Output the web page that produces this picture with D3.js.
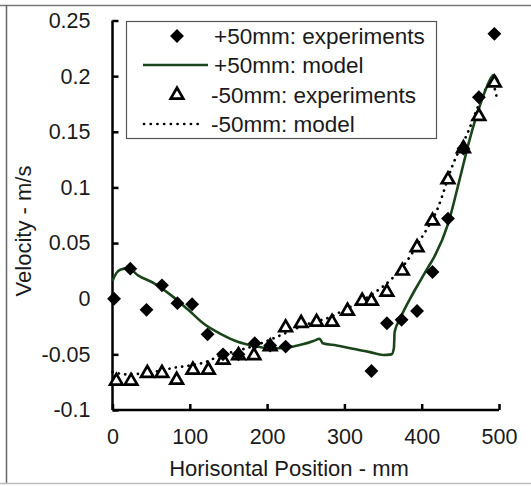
<!DOCTYPE html>
<html><head><meta charset="utf-8">
<script src="https://cdn.jsdelivr.net/npm/d3@7/dist/d3.min.js"></script>
<style>body{margin:0;background:#fff}svg{display:block;font-family:"Liberation Sans",Arial,sans-serif}</style>
</head><body>
<svg id="c" width="531" height="486"></svg>
<script>
// +50mm experiments (diamonds)
const expPlusX = [2,23,44,64,84,103,123,143,163,184,204,224,335,355,374,394,414,434,454,474,494];
const expPlusV = [0,0.027,-0.010,0.012,-0.004,-0.005,-0.032,-0.050,-0.050,-0.040,-0.042,-0.043,-0.065,-0.022,-0.019,-0.011,0.024,0.072,0.135,0.181,0.238];
// -50mm experiments (triangles)
const expMinusX = [5,24,45,64,83,104,124,143,163,183,204,224,244,264,284,304,323,335,355,375,394,414,434,454,474,494];
const expMinusV = [-0.074,-0.074,-0.067,-0.067,-0.073,-0.064,-0.064,-0.055,-0.051,-0.051,-0.043,-0.026,-0.022,-0.021,-0.021,-0.011,-0.002,-0.002,0.006,0.025,0.046,0.070,0.107,0.135,0.164,0.194];
// +50mm model (solid green)
const modPlusX = [0,5,10,20,33,55,76,98,119,141,162,180,205,225,246,260,268,272,290,311,333,350,361,364,365,372,385,398,408,415,434,449,462,475,484,493,499];
const modPlusV = [0.016,0.023,0.026,0.0275,0.021,0.0134,0.003,-0.010,-0.023,-0.032,-0.0387,-0.042,-0.0446,-0.044,-0.041,-0.038,-0.036,-0.040,-0.042,-0.045,-0.048,-0.0506,-0.050,-0.0446,-0.030,-0.018,0,0.016,0.028,0.036,0.067,0.107,0.143,0.173,0.190,0.201,0.195];
// -50mm model (dotted)
const modMinusX = [0,20,40,60,80,100,120,140,160,180,200,220,240,260,280,300,320,340,360,380,400,420,440,460,475,490,498];
const modMinusV = [-0.066,-0.068,-0.067,-0.065,-0.062,-0.060,-0.057,-0.051,-0.047,-0.043,-0.038,-0.032,-0.026,-0.021,-0.017,-0.010,-0.003,0.006,0.017,0.033,0.055,0.080,0.120,0.150,0.176,0.195,0.178];
const xTicks = [0,100,200,300,400,500];
const yTicks = [-0.1,-0.05,0,0.05,0.1,0.15,0.2,0.25];
const legendLabels = ["+50mm: experiments","+50mm: model","-50mm: experiments","-50mm: model"];
const xTitle = "Horisontal Position - mm";
const yTitle = "Velocity - m/s";

const svg = d3.select("#c");
// frame
svg.append("line").attr("x1",0).attr("x2",531).attr("y1",5.5).attr("y2",5.5).attr("stroke","#777").attr("stroke-width",1.5);
svg.append("line").attr("x1",6.5).attr("x2",6.5).attr("y1",5).attr("y2",483).attr("stroke","#666").attr("stroke-width",1.5);
svg.append("line").attr("x1",0).attr("x2",531).attr("y1",483.5).attr("y2",483.5).attr("stroke","#bbb").attr("stroke-width",1.5);

const x = d3.scaleLinear().domain([0,500]).range([112.5,499]);
const y = d3.scaleLinear().domain([-0.1,0.25]).range([410,20.5]);
const green = "#1a451a";

// axes
const xAxis = svg.append("g").attr("transform",`translate(0,${y(-0.1)})`)
  .call(d3.axisBottom(x).tickValues(xTicks).tickSize(-6).tickPadding(19).tickFormat(d3.format("d")));
const yAxis = svg.append("g").attr("transform",`translate(${x(0)},0)`)
  .call(d3.axisLeft(y).tickValues(yTicks).tickSize(-6).tickPadding(20).tickFormat(d=>String(+d.toFixed(2))));
[xAxis,yAxis].forEach(g=>{
  g.select(".domain").attr("stroke","#000").attr("stroke-width",2.5);
  g.selectAll(".tick line").attr("stroke","#000").attr("stroke-width",2.5);
  g.selectAll(".tick text").attr("fill","#1a1a1a").style("font-size","21.5px").style("font-family","Liberation Sans, Arial, sans-serif");
});
xAxis.select(".domain").attr("d",`M${x(0)},0H${x(500)}`);
yAxis.select(".domain").attr("d",`M0,${y(0.25)}V${y(-0.1)}`);
yAxis.selectAll(".tick text").attr("dx",-2);

// titles
svg.append("text").attr("x",289).attr("y",476).attr("text-anchor","middle").attr("fill","#1a1a1a")
  .style("font-size","22px").text(xTitle);
svg.append("text").attr("transform","translate(31,231) rotate(-90)").attr("text-anchor","middle").attr("fill","#1a1a1a")
  .style("font-size","22px").text(yTitle);

// lines
const line = d3.line().x(d=>x(d[0])).y(d=>y(d[1])).curve(d3.curveMonotoneX);
svg.append("path").datum(d3.zip(modMinusX,modMinusV)).attr("d",line).attr("fill","none")
  .attr("stroke","#000").attr("stroke-width",2.7).attr("stroke-dasharray","0.1,6.3").attr("stroke-linecap","round");
svg.append("path").datum(d3.zip(modPlusX,modPlusV)).attr("d",line).attr("fill","none")
  .attr("stroke",green).attr("stroke-width",2.6);

// markers
const diamond = d3.symbol().type(d3.symbolSquare).size(96);
const tri = d3.symbol().type(d3.symbolTriangle).size(68);
svg.append("g").selectAll("path").data(d3.zip(expMinusX,expMinusV)).join("path")
  .attr("d",tri).attr("transform",d=>`translate(${x(d[0])},${y(d[1])})`)
  .attr("fill","#fff").attr("stroke","#000").attr("stroke-width",2.7);
svg.append("g").selectAll("path").data(d3.zip(expPlusX,expPlusV)).join("path")
  .attr("d",diamond).attr("transform",d=>`translate(${x(d[0])},${y(d[1])}) rotate(45)`)
  .attr("fill","#000");

// legend
const lg = svg.append("g");
lg.append("rect").attr("x",126.5).attr("y",21.5).attr("width",310).attr("height",117)
  .attr("fill","#fff").attr("stroke","#555").attr("stroke-width",1.2);
const rowsY = [36,65,95,124];
lg.append("path").attr("d",diamond).attr("transform",`translate(177,${rowsY[0]}) rotate(45)`).attr("fill","#000");
lg.append("line").attr("x1",143).attr("x2",208).attr("y1",rowsY[1]).attr("y2",rowsY[1]).attr("stroke",green).attr("stroke-width",2.6);
lg.append("path").attr("d",tri).attr("transform",`translate(177,${rowsY[2]})`).attr("fill","#fff").attr("stroke","#000").attr("stroke-width",2.7);
lg.append("line").attr("x1",144).attr("x2",203).attr("y1",rowsY[3]).attr("y2",rowsY[3]).attr("stroke","#000")
  .attr("stroke-width",2.7).attr("stroke-dasharray","0.1,6.6").attr("stroke-linecap","round");
lg.selectAll("text.l").data(legendLabels).join("text").attr("class","l")
  .attr("x",(d,i)=> i<2 ? 214 : 211).attr("y",(d,i)=>rowsY[i]+7.8).attr("fill","#1a1a1a")
  .style("font-size","22.5px").text(d=>d);
</script>
</body></html>
